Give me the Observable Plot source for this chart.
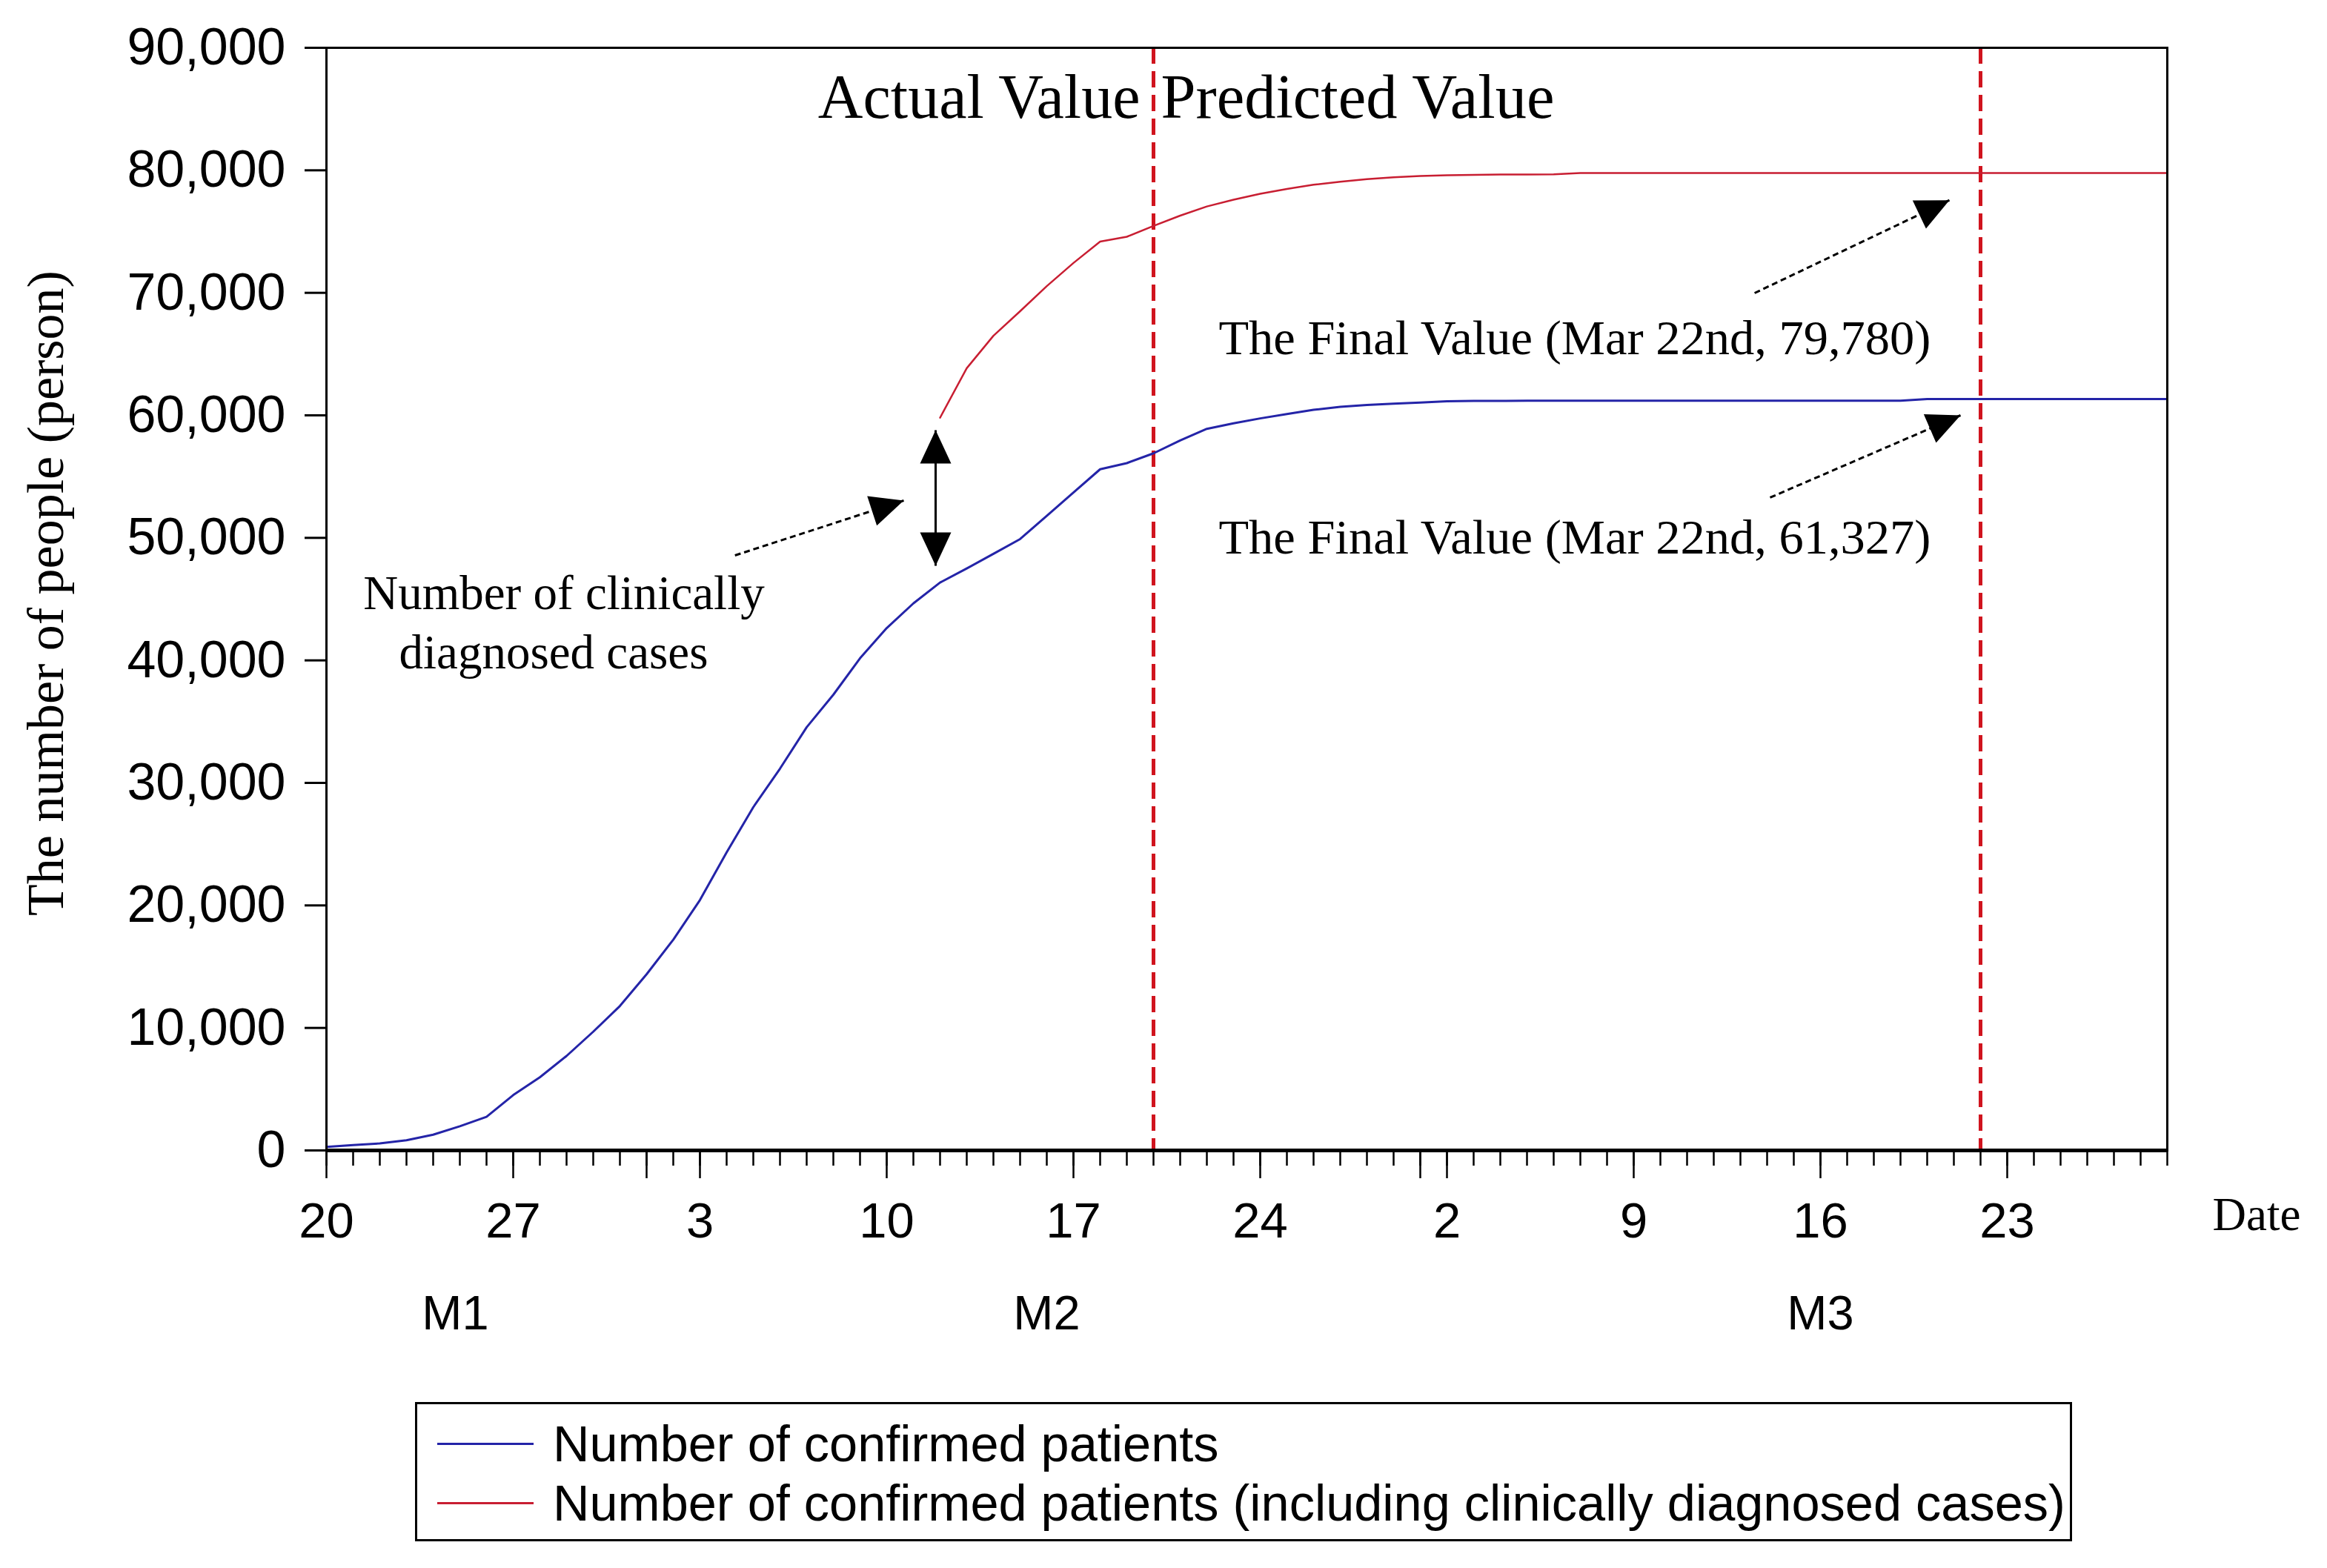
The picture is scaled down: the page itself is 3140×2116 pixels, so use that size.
<!DOCTYPE html>
<html>
<head>
<meta charset="utf-8">
<script src="https://cdn.jsdelivr.net/npm/d3@7"></script>
<script src="https://cdn.jsdelivr.net/npm/@observablehq/plot@0.6"></script>
<style>
html, body { margin: 0; padding: 0; background: #fff; }
#wrap { position: relative; width: 3140px; height: 2116px; background: #fff; }
#legend { position: absolute; left: 560px; top: 1892px; width: 2236px; height: 188px; box-sizing: border-box;
  border: 3px solid #000; font-family: "Liberation Sans", Arial, sans-serif; font-size: 68.5px; color: #000; padding-top: 13px; }
.row { height: 80px; display: flex; align-items: center; white-space: nowrap; }
.sw { width: 130px; height: 3px; margin-left: 27px; margin-right: 26px; flex: none; }
</style>
</head>
<body>
<div id="wrap"><div id="chart"></div><div id="legend"></div></div>
<script>
// ---------------- data ----------------
const startDate = "2020-01-20";
const endDate = "2020-03-29";
// Number of confirmed patients, one value per day from Jan 20
const confirmedValues = [
  291, 440, 571, 830, 1287, 1975, 2744, 4515, 5974, 7711,
  9692, 11791, 14380, 17205, 20438, 24324, 28018, 31161, 34546, 37198,
  40171, 42638, 44653, 46350, 47500, 48700, 49900, 51800, 53700, 55600,
  56100, 56900, 57950, 58900, 59350, 59750, 60100, 60450, 60700, 60850,
  60950, 61050, 61150, 61180, 61180, 61200, 61200, 61200, 61200, 61200,
  61200, 61200, 61200, 61200, 61200, 61200, 61200, 61200, 61200, 61200,
  61327, 61327, 61327, 61327, 61327, 61327, 61327, 61327, 61327, 61327
];
// Number of confirmed patients incl. clinically diagnosed cases, daily from Feb 12
const clinicalStartDate = "2020-02-12";
const clinicalValues = [
  59804, 63851, 66492, 68500, 70548, 72436, 74185, 74576, 75465,
  76300, 77050, 77600, 78080, 78480, 78820, 79070, 79280, 79430, 79530,
  79600, 79630, 79650, 79660, 79670,
  79780, 79780, 79780, 79780, 79780, 79780, 79780, 79780, 79780, 79780,
  79780, 79780, 79780, 79780, 79780, 79780, 79780, 79780, 79780, 79780,
  79780, 79780, 79780
];
const xTickDates = ["2020-01-20","2020-01-27","2020-02-03","2020-02-10","2020-02-17","2020-02-24","2020-03-02","2020-03-09","2020-03-16","2020-03-23"];
const xTickLabels = ["20","27","3","10","17","24","2","9","16","23"];
const monthStartDates = ["2020-02-01","2020-03-01"];
const monthLabels = ["M1","M2","M3"];
const monthLabelDates = ["2020-01-24T20:00Z","2020-02-16","2020-03-16"];
const yTicks = [0,10000,20000,30000,40000,50000,60000,70000,80000,90000];
const dividerDates = ["2020-02-20","2020-03-22"];
const phaseLabels = ["Actual Value","Predicted Value"];
const finalLabels = ["The Final Value (Mar 22nd, 79,780)","The Final Value (Mar 22nd, 61,327)"];
const clinicalNote = ["Number of clinically", "diagnosed cases"];
const seriesNames = ["Number of confirmed patients","Number of confirmed patients (including clinically diagnosed cases)"];
const yTitle = "The number of people (person)";
const xTitle = "Date";

// ---------------- styles ----------------
const seriesColors = ["#2424a8", "#c81e32"];
const dividerColor = "#d0141e";
const serif = '"Liberation Serif", "Times New Roman", serif';
const sans = '"Liberation Sans", Arial, sans-serif';

// ---------------- build ----------------
const parse = s => new Date(s);
const start = parse(startDate);
const end = parse(endDate);
const confirmed = confirmedValues.map((v, i) => ({date: d3.utcDay.offset(start, i), value: v}));
const clinStart = parse(clinicalStartDate);
const clinical = clinicalValues.map((v, i) => ({date: d3.utcDay.offset(clinStart, i), value: v}));
const dailyTicks = d3.utcDay.range(start, d3.utcDay.offset(end, 1));
const labelMap = new Map(xTickDates.map((d, i) => [+parse(d), xTickLabels[i]]));
const majorTicks = [...xTickDates, ...monthStartDates].map(parse);
const monthMap = new Map(monthLabelDates.map((d, i) => [+parse(d), monthLabels[i]]));
const split = parse(dividerDates[0]);
const gapX = parse("2020-02-11T20:00Z");

const chart = Plot.plot({
  width: 3140,
  height: 1860,
  marginLeft: 440,
  marginRight: 216,
  marginTop: 64,
  marginBottom: 308,
  x: {type: "utc", domain: [start, end], label: null},
  y: {domain: [0, 90000], label: null},
  style: {fontFamily: sans, fontSize: "64px", color: "#000", background: "#fff", overflow: "visible"},
  marks: [
    Plot.axisY({ticks: yTicks, tickSize: 29, tickPadding: 26, tickFormat: d3.format(","), fontSize: 70, strokeWidth: 3, label: null}),
    Plot.axisX({ticks: dailyTicks, tickSize: 21, tickFormat: () => "", strokeWidth: 2.5, label: null}),
    Plot.axisX({ticks: majorTicks, tickSize: 38, tickPadding: 32, tickFormat: d => labelMap.get(+d) ?? "", fontSize: 67, strokeWidth: 2.5, label: null}),
    Plot.axisX({ticks: monthLabelDates.map(parse), tickSize: 0, tickPadding: 195, tickFormat: d => monthMap.get(+d) ?? "", fontSize: 65, label: null}),
    Plot.ruleX(dividerDates.map(parse), {stroke: dividerColor, strokeWidth: 5, strokeDasharray: "22,10"}),
    Plot.line(confirmed, {x: "date", y: "value", stroke: seriesColors[0], strokeWidth: 3}),
    Plot.line(clinical, {x: "date", y: "value", stroke: seriesColors[1], strokeWidth: 2.5}),
    Plot.frame({stroke: "#000", strokeWidth: 3}),
    Plot.ruleY([0], {stroke: "#000", strokeWidth: 5}),
    // dashed pointer arrows
    Plot.link([
      {x1: parse("2020-02-04T07:30Z"), y1: 48570, x2: parse("2020-02-10T15:20Z"), y2: 53045},
      {x1: parse("2020-03-13T12:45Z"), y1: 69980, x2: parse("2020-03-20T20:00Z"), y2: 77560},
      {x1: parse("2020-03-14T02:40Z"), y1: 53290, x2: parse("2020-03-21T06:00Z"), y2: 60000}
    ], {x1: "x1", y1: "y1", x2: "x2", y2: "y2", stroke: "#000", strokeWidth: 3, strokeDasharray: "8,5", markerEnd: "arrow"}),
    // double-headed arrow (clinically diagnosed gap), drawn from its middle outwards
    Plot.link([{y1: 53255, y2: 58790}, {y1: 53255, y2: 47720}],
      {x1: () => gapX, x2: () => gapX, y1: "y1", y2: "y2", stroke: "#000", strokeWidth: 3, markerEnd: "arrow"}),
    Plot.text([phaseLabels[0]], {x: () => split, y: () => 85890, textAnchor: "end", lineAnchor: "middle", dx: -18, fontFamily: serif, fontSize: 84, fill: "#000"}),
    Plot.text([phaseLabels[1]], {x: () => split, y: () => 85890, textAnchor: "start", lineAnchor: "middle", dx: 10, fontFamily: serif, fontSize: 84.5, fill: "#000"}),
    Plot.text(finalLabels, {x: () => parse("2020-02-22"), y: (d, i) => [66290, 50020][i], textAnchor: "start", lineAnchor: "middle", dx: 16, fontFamily: serif, fontSize: 66.5, fill: "#000"}),
    Plot.text(clinicalNote, {x: (d, i) => parse(["2020-01-28T21:40Z", "2020-01-28T12:20Z"][i]), y: (d, i) => [45450, 40610][i], textAnchor: "middle", lineAnchor: "middle", fontFamily: serif, fontSize: 65, fill: "#000"}),
    Plot.text([xTitle], {frameAnchor: "bottom-right", dx: 61, dy: 87, textAnchor: "start", lineAnchor: "middle", fontFamily: serif, fontSize: 63, fill: "#000"}),
    Plot.text([yTitle], {frameAnchor: "left", rotate: -90, dx: -378, dy: -8, textAnchor: "middle", lineAnchor: "middle", fontFamily: serif, fontSize: 70, fill: "#000"})
  ]
});

// filled triangular arrowheads
chart.querySelectorAll("marker").forEach(m => {
  const c = m.getAttribute("stroke") || "#000";
  m.setAttribute("viewBox", "-16 -10 20 20");
  m.setAttribute("markerWidth", "20");
  m.setAttribute("markerHeight", "20");
  m.setAttribute("fill", c);
  m.setAttribute("stroke", "none");
  m.removeAttribute("stroke-width");
  while (m.firstChild) m.removeChild(m.firstChild);
  const p = document.createElementNS("http://www.w3.org/2000/svg", "path");
  p.setAttribute("d", "M-15,-7L0,0L-15,7Z");
  p.setAttribute("stroke-dasharray", "none");
  m.appendChild(p);
});

document.getElementById("chart").appendChild(chart);

// legend
const legend = document.getElementById("legend");
seriesNames.forEach((name, i) => {
  const row = document.createElement("div");
  row.className = "row";
  const sw = document.createElement("span");
  sw.className = "sw";
  sw.style.background = seriesColors[i];
  const t = document.createElement("span");
  t.textContent = name;
  row.appendChild(sw);
  row.appendChild(t);
  legend.appendChild(row);
});
</script>
</body>
</html>
